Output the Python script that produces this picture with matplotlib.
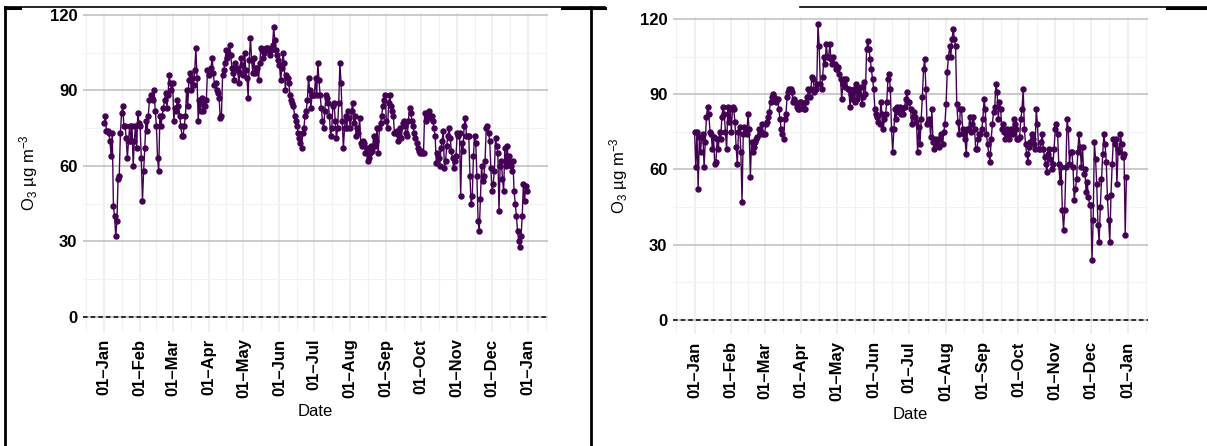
import numpy as np
import pandas as pd
import matplotlib
matplotlib.use("Agg")
import matplotlib.pyplot as plt
import matplotlib.dates as mdates
from matplotlib.lines import Line2D

plt.rcParams['font.family'] = ['Liberation Sans', 'DejaVu Sans']
plt.rcParams['mathtext.fontset'] = 'custom'
plt.rcParams['mathtext.rm'] = 'Liberation Sans'
plt.rcParams['mathtext.it'] = 'Liberation Sans:italic'

# daily O3 (ug m-3)
o3_left = [
    # Jan
    77, 80, 74, 74, 73, 70, 64, 73, 44, 40, 32, 38, 55, 56, 73, 81, 84, 76, 76, 71,
    63, 70, 76, 70, 76, 60, 70, 76, 67, 81, 77,
    # Feb
    76, 63, 46, 58, 67, 78, 74, 80, 86, 88, 87, 86, 90, 82, 76, 63, 58, 80, 76, 80,
    83, 86, 89, 83, 88, 96, 93, 90,
    # Mar
    93, 78, 83, 82, 86, 84, 80, 76, 72, 72, 76, 80, 90, 84, 94, 97, 90, 95, 92, 98,
    107, 95, 78, 86, 82, 87, 82, 86, 84, 86, 98,
    # Apr
    96, 98, 99, 103, 97, 92, 93, 90, 89, 87, 79, 80, 96, 98, 101, 106, 103, 105, 108, 104,
    99, 97, 94, 101, 99, 98, 93, 97, 103, 100,
    # May
    96, 105, 98, 95, 87, 102, 111, 102, 97, 103, 97, 99, 99, 94, 101, 107, 106, 103, 105, 107,
    106, 107, 106, 104, 106, 108, 115, 110, 106, 104, 102,
    # Jun
    100, 94, 99, 105, 101, 90, 96, 95, 93, 88, 86, 85, 84, 80, 78, 76, 73, 71, 69, 67,
    73, 75, 80, 82, 86, 95, 90, 83, 88, 88,
    # Jul
    88, 95, 88, 101, 94, 88, 83, 78, 75, 82, 88, 87, 85, 80, 72, 75, 84, 85, 78, 71,
    75, 85, 101, 93, 78, 67, 75, 80, 75, 82, 79,
    # Aug
    75, 82, 85, 77, 80, 72, 75, 73, 79, 69, 68, 70, 69, 65, 67, 62, 63, 65, 68, 66,
    72, 68, 70, 75, 65, 75, 77, 80, 84, 86, 88,
    # Sep
    78, 75, 85, 88, 84, 82, 80, 73, 73, 74, 70, 72, 75, 71, 77, 78, 76, 73, 72, 78,
    83, 81, 78, 76, 73, 71, 69, 67, 66, 65,
    # Oct
    66, 65, 65, 81, 78, 80, 80, 82, 79, 80, 78, 75, 72, 61, 65, 63, 60, 67, 70, 74,
    59, 62, 68, 72, 75, 71, 66, 63, 59, 62, 64,
    # Nov
    73, 72, 73, 48, 69, 66, 76, 79, 72, 72, 72, 56, 45, 48, 64, 72, 69, 56, 38, 34,
    47, 60, 54, 56, 62, 75, 76, 73, 70, 59,
    # Dec
    50, 53, 58, 71, 68, 65, 42, 60, 62, 55, 50, 67, 60, 68, 62, 64, 60, 58, 62, 50,
    45, 40, 34, 30, 28, 32, 40, 53, 46, 52, 50,
]

o3_right = [
    # Jan
    75, 61, 75, 52, 73, 67, 73, 74, 61, 71, 81, 85, 82, 75, 74, 68, 73, 62, 63, 72,
    68, 75, 72, 81, 85, 82, 75, 68, 85, 79, 84,
    # Feb
    75, 85, 84, 79, 69, 62, 75, 77, 67, 47, 74, 77, 76, 74, 82, 76, 57, 71, 67, 69,
    71, 72, 73, 76, 74, 75, 78, 74,
    # Mar
    74, 78, 79, 81, 83, 87, 89, 90, 89, 88, 87, 88, 84, 80, 76, 74, 72, 80, 82, 89,
    91, 92, 92, 91, 87, 88, 87, 85, 84, 84, 87,
    # Apr
    87, 85, 84, 84, 87, 89, 92, 89, 92, 97, 96, 91, 92, 94, 118, 109, 94, 92, 97, 105,
    102, 110, 105, 105, 110, 104, 102, 105, 102, 100,
    # May
    100, 101, 98, 96, 88, 94, 96, 93, 96, 92, 92, 85, 90, 88, 92, 87, 94, 88, 92, 90,
    93, 86, 89, 95, 90, 108, 111, 108, 104, 100, 96,
    # Jun
    92, 84, 82, 81, 79, 78, 87, 82, 76, 80, 82, 87, 96, 98, 92, 76, 67, 76, 84, 80,
    85, 83, 85, 82, 84, 82, 85, 88, 91, 87,
    # Jul
    87, 84, 78, 81, 83, 81, 79, 67, 77, 70, 80, 89, 100, 104, 92, 78, 79, 80, 73, 84,
    71, 68, 72, 70, 72, 69, 72, 74, 70, 75, 78,
    # Aug
    86, 99, 105, 109, 105, 112, 116, 112, 109, 86, 79, 74, 84, 84, 76, 74, 72, 66, 76, 76,
    81, 75, 78, 81, 76, 68, 68, 72, 74, 74, 76,
    # Sep
    80, 88, 84, 74, 70, 66, 63, 72, 78, 83, 85, 94, 91, 80, 87, 84, 76, 78, 75, 72,
    76, 73, 72, 74, 76, 74, 80, 78, 76, 72,
    # Oct
    72, 73, 80, 84, 92, 76, 70, 66, 63, 69, 71, 74, 72, 70, 68, 84, 78, 68, 68, 71,
    74, 68, 65, 62, 59, 66, 68, 64, 60, 62, 68,
    # Nov
    76, 78, 74, 62, 55, 61, 44, 36, 44, 61, 80, 76, 62, 67, 67, 61, 48, 52, 56, 67,
    74, 69, 61, 69, 58, 60, 51, 55, 49, 46,
    # Dec
    46, 24, 40, 71, 64, 54, 38, 31, 45, 56, 66, 74, 70, 63, 49, 40, 31, 50, 62, 72,
    70, 72, 54, 68, 67, 74, 70, 65, 66, 34, 57,
]

dates_left = pd.date_range('2018-01-01', periods=len(o3_left), freq='D')
dates_right = pd.date_range('2019-01-01', periods=len(o3_right), freq='D')

y_major = [0, 30, 60, 90, 120]
y_minor = [15, 45, 75, 105]
purple = '#440154'


def draw_panel(ax, dates, vals, year):
    d0 = mdates.date2num(pd.Timestamp(f'{year}-01-01'))
    d1 = mdates.date2num(dates[-1])
    pad = (d1 - d0) * 0.05
    ax.set_xlim(d0 - pad, d1 + pad)
    ax.set_ylim(-5.75, 120.75)

    majors = pd.date_range(f'{year - 1}-12-01', f'{year + 1}-02-01', freq='MS')
    mnum = mdates.date2num(majors)
    minors = (mnum[:-1] + mnum[1:]) / 2
    ax.set_xticks(mdates.date2num(pd.date_range(f'{year}-01-01', f'{year + 1}-01-01', freq='MS')))
    ax.xaxis.set_major_formatter(mdates.DateFormatter('%d\u2013%b'))
    ax.set_xticks(minors, minor=True)
    ax.set_yticks(y_major)
    ax.set_yticks(y_minor, minor=True)

    ax.grid(axis='x', which='major', color='#ebebeb', lw=1.1)
    ax.grid(axis='x', which='minor', color='#f2f2f2', lw=0.8)
    ax.grid(axis='y', which='major', color='#bdbdbd', lw=1.1)
    ax.grid(axis='y', which='minor', color='#f2f2f2', lw=0.8)
    ax.set_axisbelow(True)
    for s in ax.spines.values():
        s.set_visible(False)
    ax.tick_params(which='both', length=0)
    ax.tick_params(axis='y', labelsize=12, pad=4)
    ax.tick_params(axis='x', labelsize=12, pad=5, rotation=90)
    for lab in ax.get_xticklabels() + ax.get_yticklabels():
        lab.set_fontweight('bold')

    ax.axhline(0, color='black', lw=1.1, ls=(0, (3, 2)), zorder=2)
    ax.plot(dates, vals, color=purple, lw=1.0, marker='o', ms=3.6, zorder=3)
    ax.set_xlabel('Date', fontsize=12, labelpad=4)
    ax.set_ylabel(r'O$_3$ µg m$^{-3}$', fontsize=12, labelpad=7)


fig = plt.figure(figsize=(12.07, 4.46), dpi=100)
ax1 = fig.add_axes([83 / 1207, 1 - 331.5 / 446, 465 / 1207, 318.5 / 446])
ax2 = fig.add_axes([673 / 1207, 1 - 334.4 / 446, 475 / 1207, 317.4 / 446])
draw_panel(ax1, dates_left, o3_left, 2018)
draw_panel(ax2, dates_right, o3_right, 2019)


# table borders around the two figures
def px_line(x0, y0, x1, y1, lw):
    fig.add_artist(Line2D([x0 / 1207, x1 / 1207], [1 - y0 / 446, 1 - y1 / 446],
                          color='black', lw=lw, transform=fig.transFigure))


px_line(5, 7, 605, 7, 1.2)
px_line(800, 7, 1207, 7, 1.2)
px_line(5, 7.5, 20, 7.5, 2.2)
px_line(562, 7.5, 605, 7.5, 2.2)
px_line(1167, 7.5, 1207, 7.5, 2.2)
px_line(5, 7, 5, 446, 2)
px_line(591, 7, 591, 446, 2)

fig.savefig('out.png', dpi=100)
